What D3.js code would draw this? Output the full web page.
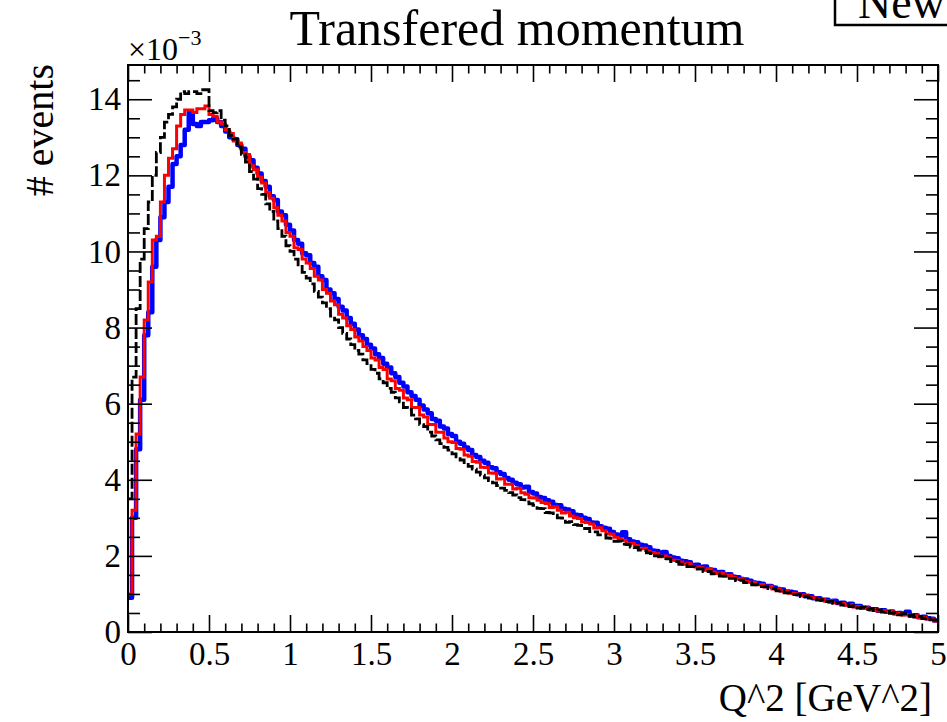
<!DOCTYPE html>
<html>
<head>
<meta charset="utf-8">
<script src="https://cdn.jsdelivr.net/npm/d3@7"></script>
<style>
  body { margin: 0; background: #fff; }
  svg { display: block; }
  text { font-family: "Liberation Serif", "Times New Roman", serif; fill: #000; }
</style>
</head>
<body>
<svg id="chart" width="947" height="722"></svg>
<script>
// histogram range and binning (200 bins from 0 to 5 GeV^2)
const xRange = [0, 5];
const binWidth = 0.025;
const yMax = 14.9;   // in units of 1e-3

const xMajor = [0, 0.5, 1, 1.5, 2, 2.5, 3, 3.5, 4, 4.5, 5];
const xLabels = ['0', '0.5', '1', '1.5', '2', '2.5', '3', '3.5', '4', '4.5', '5'];
const yMajor = [0, 2, 4, 6, 8, 10, 12, 14];
const yLabels = ['0', '2', '4', '6', '8', '10', '12', '14'];

// blue histogram (x 1e-3)
const blueVals = [
  0.90, 3.00, 4.80, 6.10, 7.80, 8.40, 9.60, 10.30, 10.90, 11.30,
  11.70, 12.30, 12.50, 12.80, 13.20, 13.65, 13.35, 13.30, 13.40, 13.40,
  13.45, 13.50, 13.40, 13.30, 13.15, 13.00, 12.95, 12.80, 12.70, 12.50,
  12.40, 12.20, 12.05, 11.85, 11.70, 11.45, 11.35, 11.05, 10.95, 10.70,
  10.55, 10.30, 10.20, 9.95, 9.90, 9.70, 9.60, 9.35, 9.25, 9.00,
  8.90, 8.75, 8.55, 8.45, 8.25, 8.10, 7.95, 7.80, 7.70, 7.55,
  7.45, 7.30, 7.20, 7.05, 6.95, 6.80, 6.70, 6.55, 6.45, 6.30,
  6.20, 6.10, 5.95, 5.85, 5.75, 5.60, 5.55, 5.40, 5.35, 5.20,
  5.15, 5.00, 4.95, 4.85, 4.78, 4.65, 4.60, 4.50, 4.45, 4.33,
  4.30, 4.20, 4.15, 4.05, 4.00, 3.92, 3.88, 3.80, 3.82, 3.68,
  3.64, 3.55, 3.52, 3.46, 3.42, 3.34, 3.33, 3.24, 3.22, 3.17,
  3.08, 3.07, 3.00, 2.97, 2.88, 2.87, 2.78, 2.74, 2.71, 2.63,
  2.56, 2.53, 2.62, 2.44, 2.38, 2.36, 2.29, 2.27, 2.23, 2.14,
  2.13, 2.07, 2.10, 2.00, 1.96, 1.94, 1.87, 1.86, 1.83, 1.76,
  1.77, 1.70, 1.72, 1.64, 1.63, 1.57, 1.58, 1.51, 1.52, 1.45,
  1.44, 1.39, 1.38, 1.35, 1.30, 1.29, 1.27, 1.21, 1.21, 1.17,
  1.13, 1.12, 1.07, 1.06, 1.04, 0.99, 0.99, 0.94, 0.94, 0.89,
  0.89, 0.85, 0.85, 0.80, 0.82, 0.76, 0.77, 0.72, 0.74, 0.68,
  0.68, 0.64, 0.64, 0.60, 0.60, 0.56, 0.57, 0.53, 0.54, 0.49,
  0.50, 0.47, 0.53, 0.43, 0.44, 0.39, 0.40, 0.36, 0.35, 0.30
];

// red histogram (x 1e-3)
const redVals = [
  1.00, 3.20, 5.20, 6.70, 8.20, 9.20, 10.30, 10.40, 11.30, 12.00,
  12.45, 12.70, 13.30, 13.60, 13.72, 13.72, 13.65, 13.75, 13.75, 13.82,
  13.60, 13.55, 13.40, 13.35, 13.20, 13.10, 12.90, 12.85, 12.60, 12.55,
  12.25, 12.15, 11.95, 11.80, 11.55, 11.40, 11.15, 10.95, 10.80, 10.50,
  10.40, 10.10, 10.05, 9.80, 9.70, 9.55, 9.35, 9.25, 9.00, 8.90,
  8.70, 8.60, 8.35, 8.25, 8.05, 7.95, 7.75, 7.65, 7.50, 7.40,
  7.20, 7.15, 6.95, 6.90, 6.65, 6.60, 6.40, 6.35, 6.15, 6.10,
  5.90, 5.90, 5.70, 5.65, 5.45, 5.45, 5.25, 5.25, 5.10, 5.00,
  4.98, 4.82, 4.80, 4.65, 4.62, 4.48, 4.46, 4.33, 4.32, 4.18,
  4.17, 4.02, 4.03, 3.88, 3.88, 3.76, 3.78, 3.66, 3.62, 3.53,
  3.52, 3.46, 3.40, 3.38, 3.27, 3.29, 3.20, 3.13, 3.15, 3.05,
  3.00, 2.98, 2.89, 2.88, 2.84, 2.73, 2.74, 2.66, 2.58, 2.57,
  2.49, 2.46, 2.41, 2.31, 2.33, 2.27, 2.19, 2.20, 2.12, 2.09,
  2.06, 1.98, 2.00, 1.95, 1.89, 1.88, 1.84, 1.78, 1.80, 1.73,
  1.71, 1.69, 1.62, 1.66, 1.58, 1.54, 1.55, 1.47, 1.49, 1.43,
  1.39, 1.40, 1.33, 1.31, 1.30, 1.24, 1.25, 1.18, 1.20, 1.13,
  1.13, 1.07, 1.09, 1.02, 1.01, 1.00, 0.95, 0.97, 0.91, 0.90,
  0.86, 0.86, 0.81, 0.83, 0.77, 0.76, 0.75, 0.70, 0.72, 0.66,
  0.67, 0.62, 0.63, 0.59, 0.59, 0.55, 0.56, 0.52, 0.53, 0.48,
  0.49, 0.45, 0.46, 0.42, 0.43, 0.38, 0.39, 0.34, 0.34, 0.29
];

// black dashed histogram (x 1e-3)
const blackVals = [
  3.50, 6.70, 8.50, 9.80, 10.60, 11.30, 12.00, 12.60, 13.00, 13.40,
  13.60, 13.80, 14.00, 14.20, 14.15, 14.20, 14.20, 14.15, 14.25, 14.25,
  13.70, 13.65, 13.70, 13.45, 13.30, 13.05, 12.95, 12.75, 12.55, 12.35,
  12.10, 11.90, 11.65, 11.50, 11.25, 11.05, 10.80, 10.60, 10.40, 10.15,
  10.00, 9.80, 9.65, 9.45, 9.30, 9.15, 8.95, 8.80, 8.65, 8.50,
  8.30, 8.20, 8.00, 7.85, 7.70, 7.55, 7.40, 7.30, 7.15, 7.05,
  6.90, 6.80, 6.65, 6.55, 6.40, 6.30, 6.15, 6.05, 5.90, 5.85,
  5.70, 5.60, 5.45, 5.40, 5.25, 5.15, 5.05, 4.95, 4.85, 4.78,
  4.68, 4.60, 4.52, 4.45, 4.35, 4.28, 4.20, 4.12, 4.05, 3.98,
  3.92, 3.85, 3.78, 3.72, 3.66, 3.60, 3.53, 3.48, 3.42, 3.37,
  3.33, 3.25, 3.24, 3.14, 3.13, 3.07, 3.00, 2.99, 2.88, 2.90,
  2.82, 2.80, 2.72, 2.72, 2.64, 2.63, 2.55, 2.55, 2.47, 2.46,
  2.38, 2.39, 2.31, 2.30, 2.23, 2.22, 2.15, 2.14, 2.08, 2.06,
  2.00, 1.99, 1.93, 1.92, 1.85, 1.85, 1.78, 1.78, 1.72, 1.72,
  1.65, 1.66, 1.59, 1.59, 1.53, 1.53, 1.47, 1.47, 1.41, 1.41,
  1.35, 1.36, 1.30, 1.30, 1.24, 1.25, 1.19, 1.19, 1.14, 1.14,
  1.08, 1.09, 1.03, 1.04, 0.98, 0.99, 0.93, 0.94, 0.89, 0.89,
  0.84, 0.85, 0.80, 0.81, 0.75, 0.77, 0.71, 0.73, 0.67, 0.69,
  0.63, 0.65, 0.59, 0.61, 0.56, 0.58, 0.52, 0.54, 0.49, 0.51,
  0.45, 0.48, 0.42, 0.44, 0.39, 0.41, 0.35, 0.37, 0.32, 0.31
];

const frame = { left: 128, right: 938, top: 65, bottom: 632 };

const svg = d3.select('#chart');
const x = d3.scaleLinear().domain(xRange).range([frame.left, frame.right]);
const y = d3.scaleLinear().domain([0, yMax]).range([frame.bottom, frame.top]);

svg.append('clipPath').attr('id', 'clip')
  .append('rect')
    .attr('x', frame.left).attr('y', frame.top)
    .attr('width', frame.right - frame.left)
    .attr('height', frame.bottom - frame.top);

// step outline like ROOT's "hist" option
const step = d3.line()
  .x(d => x(d[0]))
  .y(d => y(d[1]))
  .curve(d3.curveStepAfter);

function toPoints(vals) {
  const pts = vals.map((v, i) => [i * binWidth, v]);
  pts.push([vals.length * binWidth, vals[vals.length - 1]]);
  return pts;
}

const plot = svg.append('g').attr('clip-path', 'url(#clip)');

plot.append('path')
  .attr('d', step(toPoints(blueVals)))
  .attr('fill', 'none').attr('stroke', '#0000ff')
  .attr('stroke-width', 4.5).attr('stroke-linejoin', 'round');

plot.append('path')
  .attr('d', step(toPoints(redVals)))
  .attr('fill', 'none').attr('stroke', '#ff0000')
  .attr('stroke-width', 3);

plot.append('path')
  .attr('d', step(toPoints(blackVals)))
  .attr('fill', 'none').attr('stroke', '#000')
  .attr('stroke-width', 2.8).attr('stroke-dasharray', '11,3');

// axes: ROOT style ticks pointing inwards on all four sides
const xMinor = d3.range(0, 51).map(i => i / 10).filter(v => !xMajor.some(m => Math.abs(m - v) < 1e-9));
const yMinor = d3.range(0, 30).map(i => i / 2).filter(v => v % 2 !== 0);

function styleAxis(g) {
  g.select('.domain').remove();
  g.selectAll('line').attr('stroke', '#000').attr('stroke-width', 1.6);
}

svg.append('g')
  .attr('transform', `translate(0,${frame.bottom})`)
  .call(d3.axisBottom(x).tickValues(xMajor).tickFormat((d, i) => xLabels[i])
    .tickSizeInner(-17).tickSizeOuter(0).tickPadding(10))
  .call(styleAxis)
  .call(g => g.selectAll('text').attr('font-size', 33));

svg.append('g')
  .attr('transform', `translate(0,${frame.bottom})`)
  .call(d3.axisBottom(x).tickValues(xMinor).tickFormat('').tickSizeInner(-8.5).tickSizeOuter(0))
  .call(styleAxis);

svg.append('g')
  .attr('transform', `translate(0,${frame.top})`)
  .call(d3.axisTop(x).tickValues(xMajor).tickFormat('').tickSizeInner(-17).tickSizeOuter(0))
  .call(styleAxis);

svg.append('g')
  .attr('transform', `translate(0,${frame.top})`)
  .call(d3.axisTop(x).tickValues(xMinor).tickFormat('').tickSizeInner(-8.5).tickSizeOuter(0))
  .call(styleAxis);

svg.append('g')
  .attr('transform', `translate(${frame.left},0)`)
  .call(d3.axisLeft(y).tickValues(yMajor).tickFormat((d, i) => yLabels[i])
    .tickSizeInner(-24).tickSizeOuter(0).tickPadding(7))
  .call(styleAxis)
  .call(g => g.selectAll('text').attr('font-size', 33));

svg.append('g')
  .attr('transform', `translate(${frame.left},0)`)
  .call(d3.axisLeft(y).tickValues(yMinor).tickFormat('').tickSizeInner(-12).tickSizeOuter(0))
  .call(styleAxis);

svg.append('g')
  .attr('transform', `translate(${frame.right},0)`)
  .call(d3.axisRight(y).tickValues(yMajor).tickFormat('').tickSizeInner(-24).tickSizeOuter(0))
  .call(styleAxis);

svg.append('g')
  .attr('transform', `translate(${frame.right},0)`)
  .call(d3.axisRight(y).tickValues(yMinor).tickFormat('').tickSizeInner(-12).tickSizeOuter(0))
  .call(styleAxis);

// frame
svg.append('rect')
  .attr('x', frame.left).attr('y', frame.top)
  .attr('width', frame.right - frame.left)
  .attr('height', frame.bottom - frame.top)
  .attr('fill', 'none').attr('stroke', '#000').attr('stroke-width', 2);

// title and labels
svg.append('text')
  .attr('x', 517).attr('y', 45)
  .attr('text-anchor', 'middle').attr('font-size', 50)
  .text('Transfered momentum');

const mult = svg.append('text').attr('x', 128).attr('y', 60).attr('font-size', 32);
mult.append('tspan').text('\u00d710');
mult.append('tspan').attr('dy', -15).attr('font-size', 22).text('\u22123');

svg.append('text')
  .attr('transform', 'translate(53,64) rotate(-90)')
  .attr('text-anchor', 'end').attr('font-size', 40)
  .text('# events');

svg.append('text')
  .attr('x', 932).attr('y', 711)
  .attr('text-anchor', 'end').attr('font-size', 39)
  .text('Q^2 [GeV^2]');

// legend box, cut by the top edge of the canvas as in the original
svg.append('rect')
  .attr('x', 835).attr('y', -12).attr('width', 200).attr('height', 37)
  .attr('fill', '#fff').attr('stroke', '#000').attr('stroke-width', 2.5);
svg.append('text')
  .attr('x', 858).attr('y', 18)
  .attr('font-family', '"Liberation Sans", Arial, sans-serif')
  .attr('font-size', 46)
  .text('New');
</script>
</body>
</html>
